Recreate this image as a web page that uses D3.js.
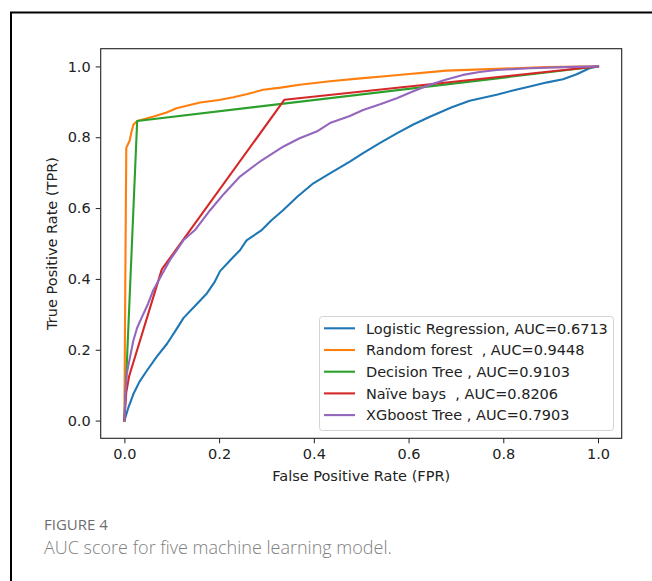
<!DOCTYPE html>
<html>
<head>
<meta charset="utf-8">
<script src="https://cdn.jsdelivr.net/npm/d3@7"></script>
<style>
  body { margin: 0; background: #fff; }
  svg { display: block; }
  .tick text { font-family: "DejaVu Sans", sans-serif; font-size: 14.5px; fill: #222; }
</style>
</head>
<body>
<div id="chart"></div>
<script>
// ROC curves, [fpr, tpr]
var logisticPts = [[0,0],[0.008,0.035],[0.019,0.075],[0.032,0.11],[0.047,0.14],[0.068,0.18],[0.09,0.217],
  [0.107,0.252],[0.125,0.29],[0.15,0.325],[0.174,0.359],[0.19,0.39],[0.202,0.422],[0.225,0.455],[0.244,0.481],
  [0.258,0.509],[0.29,0.538],[0.31,0.565],[0.335,0.594],[0.365,0.632],[0.399,0.67],[0.434,0.698],[0.476,0.731],
  [0.504,0.755],[0.54,0.784],[0.575,0.811],[0.61,0.836],[0.645,0.858],[0.69,0.884],[0.729,0.903],[0.786,0.92],
  [0.82,0.932],[0.856,0.943],[0.893,0.955],[0.926,0.964],[0.955,0.978],[0.982,0.995],[1,1]];
var forestPts = [[0,0],[0.002,0.4],[0.004,0.77],[0.011,0.79],[0.015,0.815],[0.019,0.835],[0.027,0.846],
  [0.06,0.858],[0.089,0.87],[0.11,0.882],[0.16,0.898],[0.2,0.905],[0.23,0.913],[0.26,0.922],[0.293,0.934],
  [0.33,0.94],[0.37,0.948],[0.434,0.958],[0.504,0.967],[0.55,0.972],[0.596,0.978],[0.68,0.988],[0.786,0.993],
  [0.89,0.998],[1,1]];
var treePts = [[0,0],[0.027,0.846],[1,1]];
var bayesPts = [[0,0],[0.004,0.08],[0.01,0.125],[0.079,0.427],[0.338,0.906],[1,1]];
var xgbPts = [[0,0],[0.002,0.07],[0.005,0.132],[0.012,0.18],[0.019,0.226],[0.027,0.262],[0.037,0.292],
  [0.05,0.33],[0.061,0.368],[0.078,0.41],[0.096,0.453],[0.11,0.48],[0.1245,0.509],[0.149,0.538],[0.181,0.594],
  [0.21,0.64],[0.244,0.689],[0.29,0.735],[0.336,0.774],[0.37,0.797],[0.406,0.816],[0.434,0.84],[0.476,0.86],
  [0.504,0.877],[0.54,0.893],[0.575,0.91],[0.61,0.93],[0.645,0.948],[0.68,0.963],[0.715,0.976],[0.75,0.984],
  [0.786,0.99],[0.856,0.995],[0.93,0.998],[1,1]];

var seriesNames = ["Logistic Regression, AUC=0.6713", "Random forest  , AUC=0.9448",
  "Decision Tree , AUC=0.9103", "Naïve bays  , AUC=0.8206", "XGboost Tree , AUC=0.7903"];
var seriesPts = [logisticPts, forestPts, treePts, bayesPts, xgbPts];
var seriesColors = ["#1f77b4", "#ff7f0e", "#2ca02c", "#d62728", "#9467bd"];
var tickVals = [0, 0.2, 0.4, 0.6, 0.8, 1.0];

var W = 652, H = 581;
var m = {top: 48.7, left: 100.7, right: 30.3, bottom: 142.7};
var pw = W - m.left - m.right, ph = H - m.top - m.bottom;

var svg = d3.select("#chart").append("svg")
  .attr("width", W)
  .attr("height", H);

// outer page frame
svg.append("rect")
  .attr("x", 11).attr("y", 12.5)
  .attr("width", 800).attr("height", 800)
  .attr("fill", "none")
  .attr("stroke", "#000")
  .attr("stroke-width", 2);

var x = d3.scaleLinear().domain([-0.05, 1.05]).range([0, pw]);
var y = d3.scaleLinear().domain([-0.05, 1.05]).range([ph, 0]);

var g = svg.append("g")
  .attr("transform", "translate(" + m.left + "," + m.top + ")");

var line = d3.line()
  .x(function(d) { return x(d[0]); })
  .y(function(d) { return y(d[1]); });

seriesPts.forEach(function(pts, i) {
  g.append("path")
    .datum(pts)
    .attr("fill", "none")
    .attr("stroke", seriesColors[i])
    .attr("stroke-width", 2.1)
    .attr("stroke-linejoin", "round")
    .attr("stroke-linecap", "square")
    .attr("d", line);
});

// axes
var xAxis = g.append("g")
  .attr("transform", "translate(0," + ph + ")")
  .call(d3.axisBottom(x).tickValues(tickVals).tickFormat(d3.format(".1f")).tickSize(5).tickPadding(5));
var yAxis = g.append("g")
  .call(d3.axisLeft(y).tickValues(tickVals).tickFormat(d3.format(".1f")).tickSize(5).tickPadding(5));
[xAxis, yAxis].forEach(function(a) {
  a.select(".domain").remove();
  a.selectAll(".tick line").attr("stroke", "#222").attr("stroke-width", 1);
});

// spines
g.append("rect")
  .attr("x", 0).attr("y", 0)
  .attr("width", pw).attr("height", ph)
  .attr("fill", "none")
  .attr("stroke", "#222")
  .attr("stroke-width", 1.1);

g.append("text")
  .attr("x", pw / 2)
  .attr("y", ph + 43)
  .attr("text-anchor", "middle")
  .attr("font-family", "DejaVu Sans")
  .attr("font-size", 14.5)
  .attr("fill", "#222")
  .text("False Positive Rate (FPR)");

g.append("text")
  .attr("transform", "translate(" + (-44) + "," + (ph / 2) + ") rotate(-90)")
  .attr("text-anchor", "middle")
  .attr("font-family", "DejaVu Sans")
  .attr("font-size", 14.5)
  .attr("fill", "#222")
  .text("True Positive Rate (TPR)");

// legend
var lg = svg.append("g");
lg.append("rect")
  .attr("x", 319.5).attr("y", 316.5)
  .attr("width", 294).attr("height", 114)
  .attr("rx", 3)
  .attr("fill", "#fff").attr("fill-opacity", 0.8)
  .attr("stroke", "#d3d3d3");

seriesNames.forEach(function(name, i) {
  var cy = 328.3 + i * 21.7;
  lg.append("line")
    .attr("x1", 324).attr("x2", 355)
    .attr("y1", cy).attr("y2", cy)
    .attr("stroke", seriesColors[i])
    .attr("stroke-width", 2.1);
  lg.append("text")
    .attr("x", 366).attr("y", cy + 5.2)
    .attr("font-family", "DejaVu Sans")
    .attr("font-size", 14.5)
    .attr("fill", "#222")
    .style("white-space", "pre")
    .text(name);
});

// caption
svg.append("text")
  .attr("x", 44).attr("y", 530)
  .attr("font-family", "Open Sans")
  .attr("font-weight", 500)
  .attr("font-size", 15)
  .attr("fill", "#6e6e6e")
  .text("FIGURE 4");
svg.append("text")
  .attr("x", 44).attr("y", 554)
  .attr("font-family", "Open Sans")
  .attr("font-weight", 300)
  .attr("font-size", 18)
  .attr("fill", "#808080")
  .text("AUC score for five machine learning model.");
</script>
</body>
</html>
